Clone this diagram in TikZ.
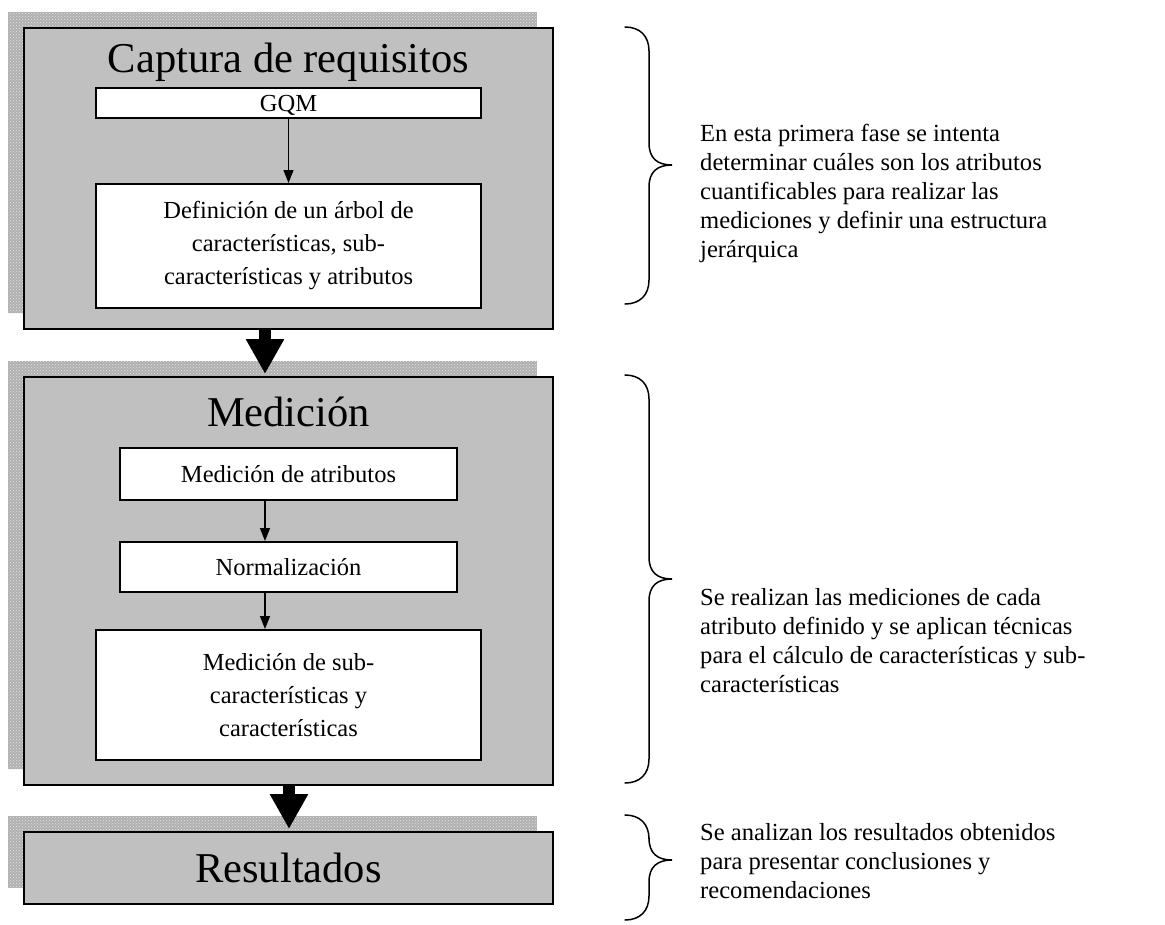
\documentclass[tikz,border=0pt]{standalone}
\usepackage{fontspec}
\setmainfont{Liberation Serif}
\usetikzlibrary{patterns,arrows.meta,calc}
\definecolor{boxgray}{RGB}{192,192,192}
\newcommand\curlyb[3]{%
\draw[bracestyle] (625,#1) .. controls (640,#1) and (649,#1+9) .. (649,#1+24) -- (649,#2-22) .. controls (649,#2-7) and (657,#2) .. (672,#2) .. controls (657,#2) and (649,#2+7) .. (649,#2+22) -- (649,#3-24) .. controls (649,#3-9) and (640,#3) .. (625,#3);}
\begin{document}
\begin{tikzpicture}[x=1pt,y=-1pt,
  shadowfill/.style={fill=gray!62, postaction={pattern=crosshatch dots, pattern color=white!80!gray}},
  bigbox/.style={draw=black, line width=2pt, fill=boxgray, minimum width=529pt, inner sep=0pt},
  whitebox/.style={draw=black, line width=2pt, fill=white, inner sep=0pt, align=center, font=\fontsize{24.5}{33}\selectfont},
  titletext/.style={anchor=base, inner sep=0pt, font=\fontsize{42.5}{50}\selectfont},
  sidetext/.style={anchor=base west, inner sep=0pt, font=\fontsize{24.6}{29}\selectfont},
  bigarrow/.style={line width=12pt, -{Triangle[width=36pt,length=35pt]}},
  smallarrow/.style={line width=1.3pt, -{Triangle[width=10pt,length=13pt]}},
  bracestyle/.style={line width=1.5pt, line cap=round}]
\useasboundingbox (0,0) rectangle (1165,924);
% shadows
\fill[shadowfill] (8,12) rectangle (537,313);
\fill[shadowfill] (8,361) rectangle (537,769);
\fill[shadowfill] (8,816) rectangle (537,888);
% big boxes
\node[bigbox, minimum height=301pt] (b1) at (288.5,178.5) {};
\node[bigbox, minimum height=408pt] (b2) at (288.5,581) {};
\node[bigbox, minimum height=72pt] (b3) at (288.5,868) {};
% titles
\node[titletext] (t1) at (288.5,72) {Captura de requisitos};
\node[titletext] (t2) at (288.5,426) {Medición};
\node[titletext] (t3) at (288.5,882) {Resultados};
% inner boxes
\node[whitebox, minimum width=385pt, minimum height=30pt, text height=16pt, text depth=0pt] (gqm) at (288.5,103) {GQM};
\node[whitebox, minimum width=385pt, minimum height=124pt] (def) at (288.5,246) {Definición de un árbol de\\características, sub-\\características y atributos};
\node[whitebox, minimum width=337pt, minimum height=52pt] (ma) at (288.5,474) {Medición de atributos};
\node[whitebox, minimum width=337pt, minimum height=50pt] (norm) at (288.5,567) {Normalización};
\node[whitebox, minimum width=385pt, minimum height=130pt] (msub) at (288.5,695) {Medición de sub-\\características y\\características};
% small arrows
\draw[smallarrow] (gqm.south) -- (def.north);
\draw[smallarrow] ($(ma.south)+(-23.5,0)$) -- ($(norm.north)+(-23.5,0)$);
\draw[smallarrow] ($(norm.south)+(-23.5,0)$) -- ($(msub.north)+(-23.5,0)$);
% big arrows
\draw[bigarrow] ($(b1.south)+(-23.5,0)$) -- ($(b2.north)+(-23.5,-2)$);
\draw[bigarrow] ($(b2.south)+(0.5,0)$) -- ($(b3.north)+(0.5,-2)$);
% braces
\curlyb{27}{165}{304}
\curlyb{375}{579}{783}
\curlyb{815}{860}{920}
% side texts
\node[sidetext] (s11) at (700,141) {En esta primera fase se intenta};
\node[sidetext] (s12) at (700,170) {determinar cuáles son los atributos};
\node[sidetext] (s13) at (700,199) {cuantificables para realizar las};
\node[sidetext] (s14) at (700,228) {mediciones y definir una estructura};
\node[sidetext] (s15) at (700,257) {jerárquica};
\node[sidetext] (s21) at (700,605) {Se realizan las mediciones de cada};
\node[sidetext] (s22) at (700,634) {atributo definido y se aplican técnicas};
\node[sidetext] (s23) at (700,663) {para el cálculo de características y sub-};
\node[sidetext] (s24) at (700,692) {características};
\node[sidetext] (s31) at (700,840) {Se analizan los resultados obtenidos};
\node[sidetext] (s32) at (700,869) {para presentar conclusiones y};
\node[sidetext] (s33) at (700,898) {recomendaciones};
\end{tikzpicture}
\end{document}
